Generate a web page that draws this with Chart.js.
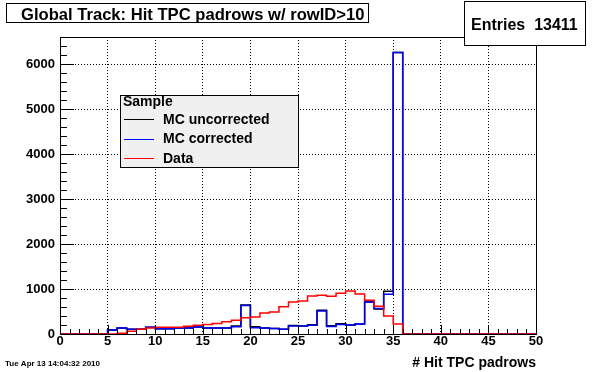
<!DOCTYPE html>
<html>
<head>
<meta charset="utf-8">
<script src="https://cdn.jsdelivr.net/npm/chart.js@4/dist/chart.umd.min.js"></script>
<style>
  body { margin: 0; background: #fff; }
  canvas { display: block; }
</style>
</head>
<body>
<canvas id="myChart" width="596" height="372"></canvas>
<script>
// histogram contents, one value per bin of width 1 (bins 0..49)
var mcUncorrected = [0, 0, 0, 0, 0, 88, 133, 105, 105, 152,
    115, 115, 132, 132, 155, 133, 133, 135, 180, 646,
    160, 134, 125, 107, 188, 180, 205, 528, 182, 226,
    198, 220, 712, 556, 950, 6258, 0, 0, 0, 0,
    0, 0, 0, 0, 0, 0, 0, 0, 0, 0];
var mcCorrected = [0, 0, 0, 0, 0, 88, 133, 105, 105, 152,
    115, 115, 132, 132, 155, 133, 133, 135, 162, 632,
    138, 134, 125, 107, 176, 180, 195, 512, 166, 210,
    198, 220, 712, 565, 886, 6258, 0, 0, 0, 0,
    0, 0, 0, 0, 0, 0, 0, 0, 0, 0];
var dataCounts = [0, 0, 0, 0, 0, 0, 18, 62, 105, 132,
    152, 152, 152, 170, 192, 212, 234, 274, 305, 362,
    376, 468, 487, 605, 712, 734, 845, 860, 838, 904,
    956, 890, 750, 618, 400, 222, 0, 0, 0, 0,
    0, 0, 0, 0, 0, 0, 0, 0, 0, 0];
var seriesNames = ["MC uncorrected", "MC corrected", "Data"];
var xTicks = [0, 5, 10, 15, 20, 25, 30, 35, 40, 45, 50];
var yTicks = [0, 1000, 2000, 3000, 4000, 5000, 6000];

var titleText = "Global Track: Hit TPC padrows w/ rowID>10";
var entriesText = "Entries  13411";
var xTitle = "# Hit TPC padrows";
var dateText = "Tue Apr 13 14:04:32 2010";

Chart.defaults.font.family = "'Liberation Sans', Arial, sans-serif";
Chart.defaults.color = "#000";

// bin edges -> step points (value holds until next edge)
function toSteps(counts) {
    var pts = [];
    for (var i = 0; i < counts.length; i++) {
        pts.push({ x: i, y: counts[i] });
    }
    pts.push({ x: counts.length, y: 0 });
    return pts;
}

var rootStyle = {
    id: 'rootStyle',
    beforeDraw: function (chart) {
        var ctx = chart.ctx;
        ctx.save();
        ctx.fillStyle = '#fff';
        ctx.fillRect(0, 0, chart.width, chart.height);
        ctx.restore();
    },
    afterDraw: function (chart) {
        var ctx = chart.ctx;
        var a = chart.chartArea;
        var xs = chart.scales.x, ys = chart.scales.y;
        ctx.save();
        ctx.strokeStyle = '#000';
        ctx.lineWidth = 1;
        // frame
        ctx.strokeRect(Math.round(a.left) + 0.5, Math.round(a.top) + 0.5,
            Math.round(a.right - a.left), Math.round(a.bottom - a.top));
        // inside tick marks
        ctx.beginPath();
        for (var v = xs.min; v <= xs.max; v++) {
            var px = Math.round(xs.getPixelForValue(v)) + 0.5;
            var len = (v % 5 === 0) ? 9 : 5;
            ctx.moveTo(px, a.bottom);
            ctx.lineTo(px, a.bottom - len);
        }
        for (var w = 0; w <= ys.max; w += 200) {
            var py = Math.round(ys.getPixelForValue(w)) + 0.5;
            var l2 = (w % 1000 === 0) ? 14 : 7;
            ctx.moveTo(a.left, py);
            ctx.lineTo(a.left + l2, py);
        }
        ctx.stroke();

        // legend box
        ctx.fillStyle = '#f0f0f0';
        ctx.fillRect(120.5, 95.5, 178, 72);
        ctx.strokeRect(120.5, 95.5, 178, 72);
        ctx.fillStyle = '#000';
        ctx.font = "bold 14px 'Liberation Sans', Arial";
        ctx.textBaseline = 'middle';
        ctx.textAlign = 'left';
        ctx.fillText("Sample", 123, 102);
        var ds = chart.data.datasets;
        for (var i = 0; i < ds.length; i++) {
            var ly = 119 + i * 19.5;
            ctx.strokeStyle = ds[i].borderColor;
            ctx.lineWidth = 1;
            ctx.beginPath();
            ctx.moveTo(124, Math.round(ly) + 0.5);
            ctx.lineTo(154, Math.round(ly) + 0.5);
            ctx.stroke();
            ctx.fillStyle = '#000';
            ctx.fillText(ds[i].label, 163, ly + 1);
        }

        // title box
        ctx.strokeStyle = '#000';
        ctx.fillStyle = '#fff';
        ctx.fillRect(6.5, 3.5, 362, 19);
        ctx.strokeRect(6.5, 3.5, 362, 19);
        ctx.fillStyle = '#000';
        ctx.font = "bold 16.6px 'Liberation Sans', Arial";
        ctx.textBaseline = 'alphabetic';
        ctx.fillText(titleText, 21, 19.5);

        // stats box
        ctx.fillStyle = '#fff';
        ctx.fillRect(464.5, 1.5, 121, 44);
        ctx.strokeRect(464.5, 1.5, 121, 44);
        ctx.fillStyle = '#000';
        ctx.font = "bold 16px 'Liberation Sans', Arial";
        ctx.fillText(entriesText, 471, 29.5);

        // date stamp
        ctx.font = "bold 8px 'Liberation Sans', Arial";
        ctx.fillText(dateText, 5, 366);
        ctx.restore();
    }
};

var ctx = document.getElementById("myChart").getContext("2d");
var myNewChart = new Chart(ctx, {
    type: 'line',
    data: {
        datasets: [
            {
                label: seriesNames[0], data: toSteps(mcUncorrected), borderColor: '#000000',
                borderWidth: 1.5, stepped: 'before', pointRadius: 0, fill: false, order: 2, clip: 3
            },
            {
                label: seriesNames[1], data: toSteps(mcCorrected), borderColor: '#0000ff',
                borderWidth: 1.5, stepped: 'before', pointRadius: 0, fill: false, order: 1, clip: 3
            },
            {
                label: seriesNames[2], data: toSteps(dataCounts), borderColor: '#ff0000',
                borderWidth: 1.5, stepped: 'before', pointRadius: 0, fill: false, order: 0, clip: 3
            }
        ]
    },
    options: {
        responsive: false,
        animation: false,
        devicePixelRatio: 1,
        layout: { padding: { left: 0, right: 60, top: 37, bottom: 0 } },
        plugins: { legend: { display: false }, tooltip: { enabled: false }, title: { display: false } },
        scales: {
            x: {
                type: 'linear', min: 0, max: 50,
                afterFit: function (s) { s.height = 38; },
                afterBuildTicks: function (s) { s.ticks = xTicks.map(function (v) { return { value: v }; }); },
                ticks: {
                    autoSkip: false, maxRotation: 0, padding: 1,
                    font: { size: 13, weight: 'bold', lineHeight: 1 },
                    callback: function (v) { return String(v); }
                },
                grid: { color: '#000', lineWidth: 1, drawTicks: false },
                border: { display: false, dash: [1, 2] },
                title: {
                    display: true, text: xTitle, align: 'end',
                    font: { size: 14, weight: 'bold', lineHeight: 1.2 },
                    padding: { top: 0, bottom: 0 }
                }
            },
            y: {
                type: 'linear', min: 0, max: 6600,
                afterFit: function (s) { s.width = 60; },
                afterBuildTicks: function (s) { s.ticks = yTicks.map(function (v) { return { value: v }; }); },
                ticks: {
                    autoSkip: false, padding: 5,
                    font: { size: 13, weight: 'bold', lineHeight: 1 },
                    callback: function (v) { return String(v); }
                },
                grid: { color: '#000', lineWidth: 1, drawTicks: false },
                border: { display: false, dash: [1, 2] }
            }
        }
    },
    plugins: [rootStyle]
});
</script>
</body>
</html>
